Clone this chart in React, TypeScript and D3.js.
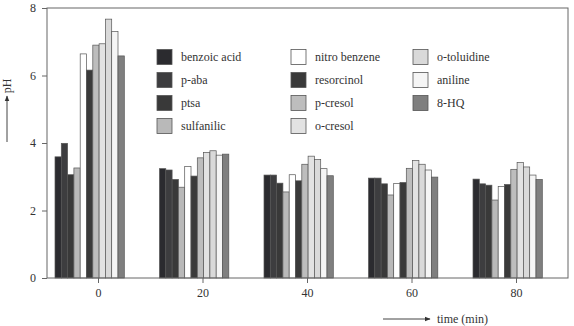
import React, { useEffect, useRef } from 'react';
import * as d3 from 'd3';

// data
const times = [0, 20, 40, 60, 80];
const compounds = [
  'benzoic acid', 'p-aba', 'ptsa', 'sulfanilic', 'nitro benzene', 'resorcinol',
  'p-cresol', 'o-cresol', 'o-toluidine', 'aniline', '8-HQ',
];
const colors = [
  '#2b2b2f', '#3d3d3f', '#393939', '#b9b9b9', '#ffffff', '#3a3a3a',
  '#bdbdbd', '#e2e2e2', '#d9d9d9', '#f5f5f5', '#7f7f7f',
];
// pH per compound, one value per time
const benzoicAcid = [3.59, 3.24, 3.05, 2.96, 2.93];
const pAba = [3.99, 3.2, 3.05, 2.96, 2.79];
const ptsa = [3.06, 2.92, 2.81, 2.79, 2.75];
const sulfanilic = [3.26, 2.69, 2.55, 2.46, 2.31];
const nitroBenzene = [6.64, 3.3, 3.06, 2.8, 2.71];
const resorcinol = [6.16, 3.02, 2.88, 2.83, 2.77];
const pCresol = [6.9, 3.56, 3.37, 3.25, 3.22];
const oCresol = [6.94, 3.72, 3.61, 3.48, 3.42];
const oToluidine = [7.67, 3.77, 3.51, 3.37, 3.29];
const aniline = [7.3, 3.64, 3.24, 3.2, 3.05];
const hq8 = [6.58, 3.67, 3.03, 2.99, 2.92];
const series = [benzoicAcid, pAba, ptsa, sulfanilic, nitroBenzene, resorcinol, pCresol, oCresol, oToluidine, aniline, hq8];
const yTicks = [0, 2, 4, 6, 8];

export default function App() {
  const ref = useRef<SVGSVGElement>(null);

  useEffect(() => {
    draw();
  }, []);

  function draw() {
    const svg = d3.select(ref.current);
    svg.selectAll('*').remove();
    const left = 47, right = 568, top = 8, bottom = 278;
    const font = '"Liberation Serif", "Times New Roman", serif';
    const axisColor = '#666';

    const x = d3.scaleLinear().domain([0, 80]).range([98, 516]);
    const y = d3.scaleLinear().domain([0, 8]).range([bottom, top]);
    const barW = 6.3;
    const offset = 43;

    // bars
    const g = svg.append('g');
    times.forEach((t, ti) => {
      series.forEach((s, si) => {
        g.append('rect')
          .attr('x', x(t) - offset + si * barW)
          .attr('y', y(s[ti]))
          .attr('width', barW)
          .attr('height', y(0) - y(s[ti]))
          .attr('fill', colors[si])
          .attr('stroke', '#555')
          .attr('stroke-width', 0.7);
      });
    });

    // frame
    svg.append('rect')
      .attr('x', left).attr('y', top)
      .attr('width', right - left).attr('height', bottom - top)
      .attr('fill', 'none').attr('stroke', axisColor).attr('stroke-width', 1);

    // axes
    const yAxis = d3.axisLeft(y).tickValues(yTicks).tickSize(5).tickPadding(6).tickFormat(d3.format('d'));
    const ya = svg.append('g').attr('transform', `translate(${left},0)`).call(yAxis);
    const xAxis = d3.axisBottom(x).tickValues(times).tickSize(5).tickPadding(5).tickFormat(d3.format('d'));
    const xa = svg.append('g').attr('transform', `translate(0,${bottom})`).call(xAxis);
    [ya, xa].forEach((a) => {
      a.select('.domain').remove();
      a.selectAll('line').attr('stroke', axisColor);
      a.selectAll('text').attr('font-family', font).attr('font-size', 12).attr('fill', '#333');
    });

    // legend
    const colX = [157, 291, 413];
    const rowY = [57, 80, 103, 126];
    const rows = 4;
    compounds.forEach((c, i) => {
      const cx = colX[Math.floor(i / rows)];
      const cy = rowY[i % rows];
      svg.append('rect')
        .attr('x', cx).attr('y', cy - 7.5)
        .attr('width', 15).attr('height', 15)
        .attr('fill', colors[i]).attr('stroke', '#555').attr('stroke-width', 0.8);
      svg.append('text')
        .attr('x', cx + 24).attr('y', cy + 4)
        .attr('font-family', font).attr('font-size', 12).attr('fill', '#333')
        .text(c);
    });

    // axis titles with arrows
    const defs = svg.append('defs');
    defs.append('marker')
      .attr('id', 'arr').attr('viewBox', '0 0 10 10')
      .attr('refX', 9).attr('refY', 5)
      .attr('markerWidth', 6).attr('markerHeight', 6)
      .attr('orient', 'auto')
      .append('path').attr('d', 'M0,1 L10,5 L0,9 Z').attr('fill', '#333');

    svg.append('line')
      .attr('x1', 7).attr('y1', 142).attr('x2', 7).attr('y2', 96)
      .attr('stroke', '#444').attr('marker-end', 'url(#arr)');
    svg.append('text')
      .attr('transform', 'translate(11,86) rotate(-90)')
      .attr('text-anchor', 'middle')
      .attr('font-family', font).attr('font-size', 12).attr('fill', '#333')
      .text('pH');

    svg.append('line')
      .attr('x1', 383).attr('y1', 319).attr('x2', 430).attr('y2', 319)
      .attr('stroke', '#444').attr('marker-end', 'url(#arr)');
    svg.append('text')
      .attr('x', 437).attr('y', 323)
      .attr('font-family', font).attr('font-size', 12).attr('fill', '#333')
      .text('time (min)');
  }

  return (
    <svg ref={ref} width={574} height={326} style={{ position: 'absolute', left: 0, top: 0, background: '#fff' }} />
  );
}
